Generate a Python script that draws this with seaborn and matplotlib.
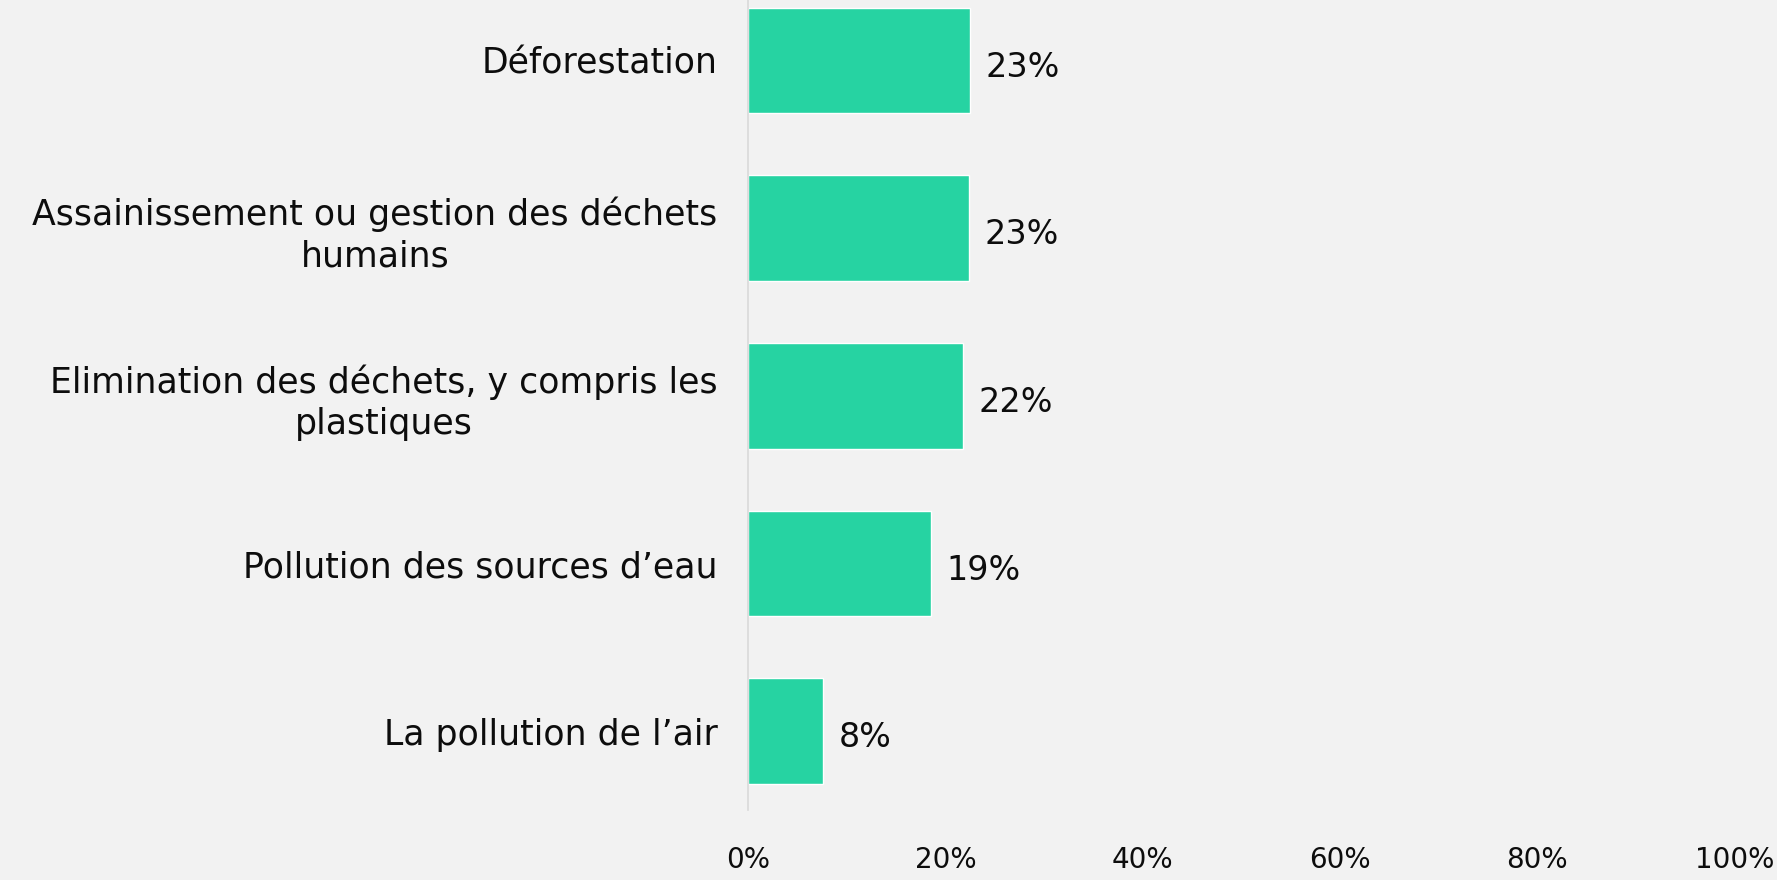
import matplotlib
matplotlib.use("Agg")
import matplotlib.pyplot as plt
import seaborn as sns
import pandas as pd

# data
categories = [
    "Déforestation",
    "Assainissement ou gestion des déchets\nhumains",
    "Elimination des déchets, y compris les\nplastiques",
    "Pollution des sources d\u2019eau",
    "La pollution de l\u2019air",
]
shares = [22.5, 22.4, 21.8, 18.5, 7.6]
value_labels = ["23%", "23%", "22%", "19%", "8%"]
x_ticks = [0, 20, 40, 60, 80, 100]

bg = "#f2f2f2"
bar_color = "#26d3a2"
ink = "#0d0d0d"

sns.set_theme(style="white")
plt.rcParams["font.family"] = ["DejaVu Sans"]

df = pd.DataFrame({"category": categories, "share": shares})

fig = plt.figure(figsize=(17.77, 8.8), dpi=100, facecolor=bg)
ax = fig.add_axes([0.421, 0.0795, 0.555, 0.9205])
ax.set_facecolor(bg)

sns.barplot(data=df, x="share", y="category", orient="h", color=bar_color,
            width=0.63, saturation=1, ax=ax)

ax.set_xlim(0, 100)
ax.set_ylim(4.47, -0.36)
ax.set_xticks(x_ticks)
ax.set_xticklabels([f"{t}%" for t in x_ticks], fontsize=20, color=ink)
ax.tick_params(axis="x", length=0, pad=26)
ax.tick_params(axis="y", length=0, pad=22)
ax.set_yticks(range(len(categories)))
ax.set_yticklabels(categories, fontsize=25, multialignment="center",
                   linespacing=1.25, color=ink)
ax.set_xlabel("")
ax.set_ylabel("")

for side in ["top", "right", "bottom"]:
    ax.spines[side].set_visible(False)
ax.spines["left"].set_color("#d9d9d9")
ax.spines["left"].set_linewidth(1.2)

for i, (v, lab) in enumerate(zip(shares, value_labels)):
    ax.text(v + 1.6, i + 0.04, lab, va="center", ha="left", fontsize=24, color=ink)

fig.savefig("out.png", dpi=100, facecolor=bg)
